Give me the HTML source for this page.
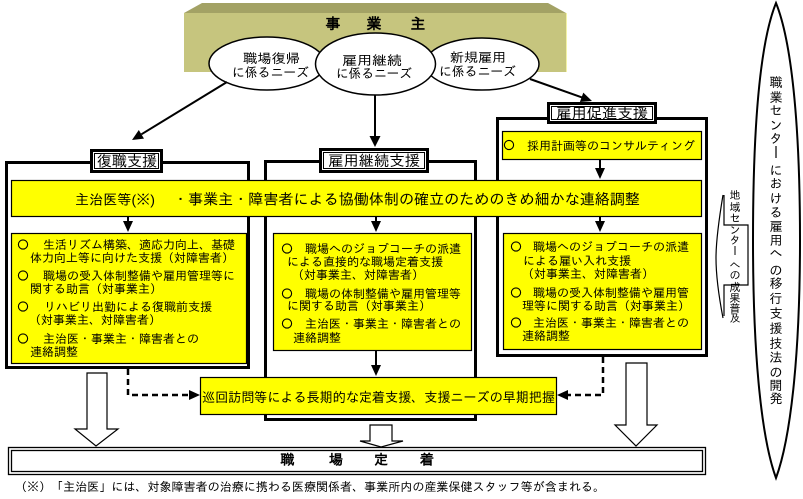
<!DOCTYPE html>
<html><head><meta charset="utf-8">
<style>
html,body{margin:0;padding:0;background:#fff;}
svg{display:block;}
text{font-family:"Liberation Sans","IPAGothic","Noto Sans CJK JP",sans-serif;fill:#000;}
</style></head>
<body>
<svg width="803" height="499" viewBox="0 0 803 499" xmlns="http://www.w3.org/2000/svg">
<rect width="803" height="499" fill="#fff"/>

<!-- 事業主 box -->
<polygon points="184,13 202,3 548,3 566,13" fill="#a3a265"/>
<rect x="184" y="13" width="382" height="59" fill="#c6c57e"/>
<line x1="566.5" y1="13" x2="566.5" y2="72" stroke="#f2f2a6" stroke-width="1"/>
<text x="333" y="29" font-size="15" font-weight="bold" text-anchor="middle">事</text>
<text x="374" y="29" font-size="15" font-weight="bold" text-anchor="middle">業</text>
<text x="418" y="29" font-size="15" font-weight="bold" text-anchor="middle">主</text>

<!-- ellipses -->
<ellipse cx="267" cy="63.5" rx="58" ry="26.5" fill="#fff" stroke="#000" stroke-width="1.5"/>
<ellipse cx="482" cy="64" rx="57" ry="26" fill="#fff" stroke="#000" stroke-width="1.5"/>
<ellipse cx="375.5" cy="64" rx="60" ry="31" fill="#fff" stroke="#000" stroke-width="1.5"/>
<text x="243" y="63" font-size="13" textLength="57" lengthAdjust="spacingAndGlyphs">職場復帰</text>
<text x="232" y="77" font-size="13" textLength="77" lengthAdjust="spacingAndGlyphs">に係るニーズ</text>
<text x="342" y="65" font-size="13" textLength="60" lengthAdjust="spacingAndGlyphs">雇用継続</text>
<text x="336" y="78" font-size="13" textLength="76" lengthAdjust="spacingAndGlyphs">に係るニーズ</text>
<text x="450" y="62" font-size="13" textLength="56" lengthAdjust="spacingAndGlyphs">新規雇用</text>
<text x="439" y="76" font-size="13" textLength="77" lengthAdjust="spacingAndGlyphs">に係るニーズ</text>

<!-- top arrows -->
<line x1="227" y1="82" x2="141.4" y2="134.3" stroke="#000" stroke-width="2"/>
<polygon points="132,140 144,138.6 138.8,130" fill="#000"/>
<line x1="375" y1="95" x2="375" y2="137" stroke="#000" stroke-width="2"/>
<polygon points="375,147 369.5,136 380.5,136" fill="#000"/>
<line x1="530" y1="79" x2="582" y2="97.4" stroke="#000" stroke-width="2"/>
<polygon points="592,101 579.9,102 583.3,92.6" fill="#000"/>

<!-- panels -->
<rect x="6.5" y="162.5" width="242" height="205" fill="none" stroke="#000" stroke-width="3"/>
<rect x="265.5" y="161.5" width="210" height="258" fill="none" stroke="#000" stroke-width="3"/>
<rect x="497.5" y="118.5" width="209" height="237" fill="none" stroke="#000" stroke-width="3"/>

<!-- title boxes -->
<rect x="91.5" y="150.5" width="70" height="21" fill="#fff" stroke="#000" stroke-width="3"/>
<rect x="94.5" y="153.5" width="64" height="15" fill="none" stroke="#000" stroke-width="1"/>
<text x="97" y="166.5" font-size="15" textLength="60" lengthAdjust="spacingAndGlyphs">復職支援</text>

<rect x="320.5" y="149.5" width="107" height="22" fill="#fff" stroke="#000" stroke-width="3"/>
<rect x="323.5" y="152.5" width="101" height="16" fill="none" stroke="#000" stroke-width="1"/>
<text x="328" y="166" font-size="15" textLength="92" lengthAdjust="spacingAndGlyphs">雇用継続支援</text>

<rect x="548.5" y="103.5" width="107" height="19" fill="#fff" stroke="#000" stroke-width="3"/>
<rect x="551.5" y="106.5" width="101" height="13" fill="none" stroke="#000" stroke-width="1"/>
<text x="556" y="118.5" font-size="15" textLength="92" lengthAdjust="spacingAndGlyphs">雇用促進支援</text>

<!-- 採用計画 box -->
<rect x="502.5" y="131.5" width="199" height="28" fill="#ffff00" stroke="#000" stroke-width="1.2"/>
<circle cx="509" cy="145" r="4.6" fill="none" stroke="#000" stroke-width="1.1"/>
<text x="527" y="150" font-size="12" textLength="168" lengthAdjust="spacingAndGlyphs">採用計画等のコンサルティング</text>
<line x1="600" y1="160" x2="600" y2="169" stroke="#000" stroke-width="2"/>
<polygon points="600,179 595,168 605,168" fill="#000"/>

<!-- band -->
<rect x="11.5" y="180.5" width="690" height="36" fill="#ffff00" stroke="#000" stroke-width="1.2"/>
<text x="75" y="204.5" font-size="14" textLength="80" lengthAdjust="spacingAndGlyphs">主治医等(※)</text>
<text x="173" y="204.5" font-size="15" textLength="467" lengthAdjust="spacingAndGlyphs">・事業主・障害者による協働体制の確立のためのきめ細かな連絡調整</text>

<!-- arrows from band -->
<line x1="128" y1="217" x2="128" y2="223" stroke="#000" stroke-width="2"/>
<polygon points="128,232 123,221 133,221" fill="#000"/>
<line x1="376" y1="217" x2="376" y2="223" stroke="#000" stroke-width="2"/>
<polygon points="376,232 371,221 381,221" fill="#000"/>
<line x1="600" y1="217" x2="600" y2="223" stroke="#000" stroke-width="2"/>
<polygon points="600,232 595,221 605,221" fill="#000"/>

<!-- left lower box -->
<rect x="11.5" y="233.5" width="235" height="130" fill="#ffff00" stroke="#000" stroke-width="1.2"/>
<circle cx="23" cy="244.5" r="4.6" fill="none" stroke="#000" stroke-width="1.1"/>
<text x="43" y="249" font-size="12" textLength="192" lengthAdjust="spacingAndGlyphs">生活リズム構築、適応力向上、基礎</text>
<text x="30" y="262" font-size="12" textLength="204" lengthAdjust="spacingAndGlyphs">体力向上等に向けた支援（対障害者）</text>
<circle cx="23" cy="275.5" r="4.6" fill="none" stroke="#000" stroke-width="1.1"/>
<text x="43" y="280" font-size="12" textLength="192" lengthAdjust="spacingAndGlyphs">職場の受入体制整備や雇用管理等に</text>
<text x="30" y="293" font-size="12" textLength="132" lengthAdjust="spacingAndGlyphs">関する助言（対事業主）</text>
<circle cx="23" cy="306.5" r="4.6" fill="none" stroke="#000" stroke-width="1.1"/>
<text x="44" y="311" font-size="12" textLength="168" lengthAdjust="spacingAndGlyphs">リハビリ出勤による復職前支援</text>
<text x="29" y="324" font-size="12" textLength="132" lengthAdjust="spacingAndGlyphs">（対事業主、対障害者）</text>
<circle cx="23" cy="338.5" r="4.6" fill="none" stroke="#000" stroke-width="1.1"/>
<text x="43" y="343" font-size="12" textLength="156" lengthAdjust="spacingAndGlyphs">主治医・事業主・障害者との</text>
<text x="30" y="356" font-size="12" textLength="48" lengthAdjust="spacingAndGlyphs">連絡調整</text>

<!-- middle lower box -->
<rect x="273.5" y="233.5" width="198" height="117" fill="#ffff00" stroke="#000" stroke-width="1.2"/>
<circle cx="287" cy="248.5" r="4.6" fill="none" stroke="#000" stroke-width="1.1"/>
<text x="305" y="253" font-size="12" textLength="156" lengthAdjust="spacingAndGlyphs">職場へのジョブコーチの派遣</text>
<text x="287" y="266" font-size="12" textLength="156" lengthAdjust="spacingAndGlyphs">による直接的な職場定着支援</text>
<text x="292" y="279" font-size="12" textLength="132" lengthAdjust="spacingAndGlyphs">（対事業主、対障害者）</text>
<circle cx="287" cy="293.5" r="4.6" fill="none" stroke="#000" stroke-width="1.1"/>
<text x="305" y="298" font-size="12" textLength="156" lengthAdjust="spacingAndGlyphs">職場の体制整備や雇用管理等</text>
<text x="287" y="310" font-size="12" textLength="144" lengthAdjust="spacingAndGlyphs">に関する助言（対事業主）</text>
<circle cx="287" cy="323.5" r="4.6" fill="none" stroke="#000" stroke-width="1.1"/>
<text x="305" y="328" font-size="12" textLength="156" lengthAdjust="spacingAndGlyphs">主治医・事業主・障害者との</text>
<text x="293" y="342" font-size="12" textLength="48" lengthAdjust="spacingAndGlyphs">連絡調整</text>

<!-- right lower box -->
<rect x="503.5" y="233.5" width="198" height="116" fill="#ffff00" stroke="#000" stroke-width="1.2"/>
<circle cx="516" cy="246.5" r="4.6" fill="none" stroke="#000" stroke-width="1.1"/>
<text x="533" y="251" font-size="12" textLength="156" lengthAdjust="spacingAndGlyphs">職場へのジョブコーチの派遣</text>
<text x="523" y="265" font-size="12" textLength="108" lengthAdjust="spacingAndGlyphs">による雇い入れ支援</text>
<text x="522" y="278" font-size="12" textLength="132" lengthAdjust="spacingAndGlyphs">（対事業主、対障害者）</text>
<circle cx="516" cy="292.5" r="4.6" fill="none" stroke="#000" stroke-width="1.1"/>
<text x="533" y="297" font-size="12" textLength="156" lengthAdjust="spacingAndGlyphs">職場の受入体制整備や雇用管</text>
<text x="522" y="310" font-size="12" textLength="168" lengthAdjust="spacingAndGlyphs">理等に関する助言（対事業主）</text>
<circle cx="516" cy="322.5" r="4.6" fill="none" stroke="#000" stroke-width="1.1"/>
<text x="533" y="327" font-size="12" textLength="156" lengthAdjust="spacingAndGlyphs">主治医・事業主・障害者との</text>
<text x="522" y="340" font-size="12" textLength="48" lengthAdjust="spacingAndGlyphs">連絡調整</text>

<!-- middle box to 巡回 -->
<line x1="376" y1="351" x2="376" y2="366" stroke="#000" stroke-width="2"/>
<polygon points="376,376 371,365 381,365" fill="#000"/>

<!-- dashed connectors -->
<path d="M128,369 V395 H191" fill="none" stroke="#000" stroke-width="2.5" stroke-dasharray="6,4"/>
<polygon points="200,395 189,390 189,400" fill="#000"/>
<path d="M603,357 V395 H567" fill="none" stroke="#000" stroke-width="2.5" stroke-dasharray="6,4"/>
<polygon points="557,395 568,390 568,400" fill="#000"/>

<!-- 巡回 box -->
<rect x="200.5" y="377.5" width="356" height="37" fill="#ffff00" stroke="#000" stroke-width="1.2"/>
<text x="202" y="402" font-size="13.5" textLength="353" lengthAdjust="spacingAndGlyphs">巡回訪問等による長期的な定着支援、支援ニーズの早期把握</text>

<!-- hollow arrows -->
<polygon points="87,373 107,373 107,429 118,429 96,446 75,429 87,429" fill="#fff" stroke="#000" stroke-width="1.2"/>
<polygon points="370,425 392,425 392,441 403,441 381,447 360,441 370,441" fill="#fff" stroke="#000" stroke-width="1.2"/>
<polygon points="626,363 647,363 647,425 657,425 636,446 615,425 626,425" fill="#fff" stroke="#000" stroke-width="1.2"/>

<!-- 職場定着 -->
<rect x="8.5" y="447.5" width="697" height="27" fill="#fff" stroke="#000" stroke-width="1.3"/>
<rect x="11.5" y="450.5" width="691" height="21" fill="none" stroke="#000" stroke-width="1.3"/>
<text x="287.5" y="464.5" font-size="14" font-weight="bold" text-anchor="middle">職</text>
<text x="336" y="464.5" font-size="14" font-weight="bold" text-anchor="middle">場</text>
<text x="381" y="464.5" font-size="14" font-weight="bold" text-anchor="middle">定</text>
<text x="427" y="464.5" font-size="14" font-weight="bold" text-anchor="middle">着</text>

<!-- footnote -->
<text x="15" y="491" font-size="12" textLength="590" lengthAdjust="spacingAndGlyphs">（※）「主治医」には、対象障害者の治療に携わる医療関係者、事業所内の産業保健スタッフ等が含まれる。</text>

<!-- lancet shape -->
<path d="M776,3 C761,40 753,120 753,240 C753,360 762,440 776,478 C790,440 800,360 800,240 C800,120 791,40 776,3 Z" fill="#fff" stroke="#000" stroke-width="2"/>
<g font-size="13" text-anchor="middle">
<text x="776" y="87">職</text>
<text x="776" y="102">業</text>
<text x="776" y="115">セ</text>
<text x="776" y="130">ン</text>
<text x="776" y="143">タ</text>
<text x="776" y="175">に</text>
<text x="776" y="188">お</text>
<text x="776" y="203">け</text>
<text x="776" y="217">る</text>
<text x="776" y="231">雇</text>
<text x="776" y="245">用</text>
<text x="776" y="258">へ</text>
<text x="776" y="275">の</text>
<text x="776" y="288">移</text>
<text x="776" y="303">行</text>
<text x="776" y="318">支</text>
<text x="776" y="333">援</text>
<text x="776" y="348">技</text>
<text x="776" y="362">法</text>
<text x="776" y="377">の</text>
<text x="776" y="390">開</text>
<text x="776" y="403">発</text>
</g>
<line x1="776" y1="146" x2="776" y2="158" stroke="#000" stroke-width="1.2"/>

<!-- 地域センター callout -->
<path d="M723,195 C718,225 716,245 716,258 C716,272 718,292 723,318" fill="none" stroke="#000" stroke-width="1.2"/>
<path d="M724,195 V225 H748 V285 H724 V316" fill="none" stroke="#000" stroke-width="1.2"/>
<g font-size="11" text-anchor="middle">
<text x="735" y="199">地</text>
<text x="735" y="211">域</text>
<text x="735" y="222">セ</text>
<text x="735" y="234">ン</text>
<text x="735" y="244">タ</text>
<text x="735" y="269">へ</text>
<text x="735" y="279">の</text>
<text x="735" y="291">成</text>
<text x="735" y="302">果</text>
<text x="735" y="312">普</text>
<text x="735" y="322">及</text>
</g>
<line x1="735" y1="246" x2="735" y2="255" stroke="#000" stroke-width="1"/>
</svg>
</body></html>
